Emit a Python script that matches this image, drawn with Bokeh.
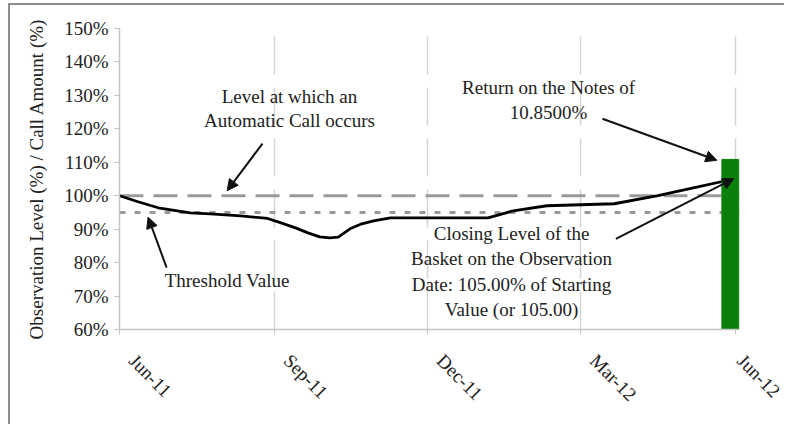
import math
import datetime as dt
from bokeh.plotting import figure
from bokeh.models import (Range1d, FixedTicker, PrintfTickFormatter, Arrow, NormalHead,
                          Label, LinearAxis)
from bokeh.embed import file_html
from bokeh.resources import INLINE

EPOCH = dt.datetime(1970, 1, 1)
DAY = 86400000.0


def ms(s):
    return (dt.datetime.strptime(s, "%Y-%m-%d") - EPOCH).total_seconds() * 1000.0


# ---------------- data ----------------
basket_dates = ["2011-06-01", "2011-06-12", "2011-06-24", "2011-07-13", "2011-07-25",
                "2011-08-12", "2011-08-28", "2011-09-05", "2011-09-14", "2011-09-21",
                "2011-09-28", "2011-10-04", "2011-10-09", "2011-10-16", "2011-10-23",
                "2011-10-30", "2011-11-09", "2011-12-09", "2012-01-06", "2012-01-21",
                "2012-02-10", "2012-03-21", "2012-04-16", "2012-05-05", "2012-05-31"]
basket_levels = [100.0, 98.2, 96.4, 94.9, 94.6,
                 94.0, 93.2, 91.9, 90.3, 88.9,
                 87.7, 87.4, 87.6, 90.1, 91.6,
                 92.5, 93.4, 93.4, 93.4, 95.5,
                 97.0, 97.6, 100.0, 102.1, 105.0]

call_level = 100.0
threshold_level = 95.0

return_bar_start = "2012-05-24"
return_bar_end = "2012-06-03"
return_bar_top = 110.85

tick_dates = ["2011-06-01", "2011-09-01", "2011-12-01", "2012-03-01", "2012-06-01"]
tick_labels = ["Jun-11", "Sep-11", "Dec-11", "Mar-12", "Jun-12"]
y_ticks = [60, 70, 80, 90, 100, 110, 120, 130, 140, 150]

FONT = "Liberation Serif"
TXT = "#222222"
FS = "19px"
Y0, Y1 = 60, 150
X0, X1 = ms("2011-06-01"), ms("2012-06-10")
LABEL_SHIFT = 7.6 * DAY

# ---------------- figure ----------------
p = figure(
    output_backend="svg", toolbar_location=None,
    frame_width=631, frame_height=301,
    min_border_left=109, min_border_right=34, min_border_top=23, min_border_bottom=95,
    x_range=Range1d(X0, X1),
    y_range=Range1d(Y0, Y1),
    background_fill_color="white", border_fill_color="white",
)
p.styles = {"border-top": "2px solid #8c8c8c", "border-left": "2px solid #8c8c8c",
            "margin-top": "3px", "margin-left": "8px"}
p.outline_line_color = None

xt = FixedTicker(ticks=[ms(s) for s in tick_dates])
p.xaxis.ticker = xt
p.xaxis.bounds = (ms(tick_dates[0]), ms(return_bar_end))
p.xaxis.major_label_overrides = {ms(s): "" for s in tick_dates}
p.xaxis.major_label_text_font_size = "0px"
p.xaxis.major_label_standoff = 0
p.xgrid.ticker = xt
p.xgrid.grid_line_color = "#d4d4d4"
p.xgrid.grid_line_width = 1.5
p.xgrid.grid_line_dash = "38 13"
p.ygrid.visible = False

p.yaxis.ticker = FixedTicker(ticks=y_ticks)
p.yaxis.formatter = PrintfTickFormatter(format="%d%%")
p.yaxis.axis_label = "Observation Level (%) / Call Amount (%)"
p.yaxis.axis_label_standoff = 14

for ax in (p.xaxis[0], p.yaxis[0]):
    ax.axis_line_color = "#c4c4c4"
    ax.axis_line_width = 1.5
    ax.major_tick_line_color = "#c4c4c4"
    ax.major_tick_out = 5
    ax.major_tick_in = 0
    ax.minor_tick_line_color = None
    ax.major_label_text_font = FONT
    ax.major_label_text_color = TXT
    ax.axis_label_text_font = FONT
    ax.axis_label_text_font_size = FS
    ax.axis_label_text_font_style = "normal"
    ax.axis_label_text_color = TXT
p.yaxis.major_label_text_font_size = FS
p.yaxis.major_label_standoff = 6

# second, label-only x axis, shifted so rotated labels start right of each tick
p.extra_x_ranges = {"lab": Range1d(X0 - LABEL_SHIFT, X1 - LABEL_SHIFT)}
lab_axis = LinearAxis(x_range_name="lab", ticker=FixedTicker(ticks=[ms(s) for s in tick_dates]),
                      major_label_overrides={ms(s): t for s, t in zip(tick_dates, tick_labels)},
                      major_label_orientation=-math.pi / 4, major_label_standoff=23,
                      axis_line_color=None, major_tick_line_color=None,
                      minor_tick_line_color=None, major_tick_out=0, major_tick_in=0,
                      major_label_text_font=FONT, major_label_text_font_size=FS,
                      major_label_text_color=TXT)
p.add_layout(lab_axis, "below")

# reference levels (call level dashed, threshold dotted), from start to the return bar
level_x = [ms(tick_dates[0]), ms(return_bar_end)]
p.line(level_x, [call_level, call_level], line_color="#9a9a9a", line_width=3,
       line_dash="24 10")
p.line(level_x, [threshold_level, threshold_level], line_color="#9a9a9a", line_width=3,
       line_dash="6 9")

# basket line
p.line([ms(s) for s in basket_dates], basket_levels, line_color="black", line_width=2.8,
       line_join="round")

# return bar
p.quad(left=[ms(return_bar_start)], right=[ms(return_bar_end)], top=[return_bar_top],
       bottom=[Y0], fill_color="#0a7f0a", line_color="#0a7f0a")


def label(x, y, text):
    p.add_layout(Label(x=ms(x), y=y, text=text, text_align="center", text_baseline="middle",
                       text_font=FONT, text_font_size=FS, text_color=TXT))


def arrow(x0, y0, x1, y1):
    p.add_layout(Arrow(end=NormalHead(size=11, fill_color="#111111", line_color="#111111"),
                       x_start=ms(x0), y_start=y0, x_end=ms(x1), y_end=y1,
                       line_color="#111111", line_width=2))


label("2011-09-10", 129.6, "Level at which an")
label("2011-09-10", 122.4, "Automatic Call occurs")
arrow("2011-08-25", 115.6, "2011-08-04", 101.5)

label("2012-02-11", 132.3, "Return on the Notes of")
label("2012-02-11", 124.8, "10.8500%")
arrow("2012-03-14", 123.0, "2012-05-21", 110.6)

label("2011-08-04", 74.6, "Threshold Value")
arrow("2011-06-29", 78.5, "2011-06-18", 93.6)

label("2012-01-20", 88.6, "Closing Level of the")
label("2012-01-20", 81.2, "Basket on the Observation")
label("2012-01-20", 73.4, "Date: 105.00% of Starting")
label("2012-01-20", 65.9, "Value (or 105.00)")
arrow("2012-03-22", 87.1, "2012-05-31", 105.1)

open("out.html", "w").write(file_html(p, INLINE))
